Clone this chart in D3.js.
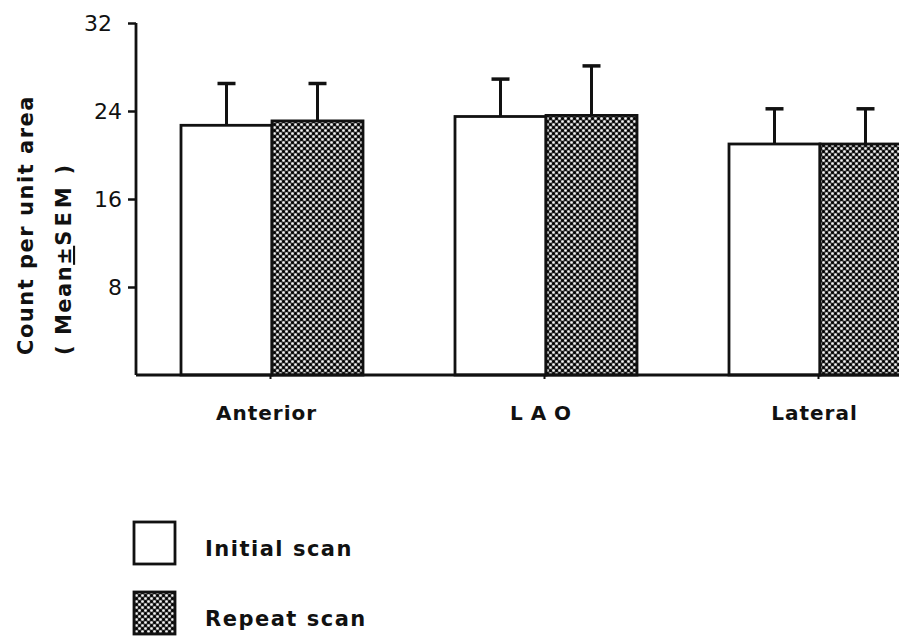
<!DOCTYPE html>
<html><head><meta charset="utf-8">
<script src="https://cdn.jsdelivr.net/npm/d3@7"></script>
<style>body{margin:0;background:#fff}svg{display:block}text{font-family:"DejaVu Sans",sans-serif;fill:#111}</style>
</head><body>
<svg id="c" width="899" height="638"></svg>
<script>
const categories = ["Anterior", "LAO", "Lateral"];
const seriesNames = ["Initial scan", "Repeat scan"];
const initialMean = [22.7, 23.5, 21.0];
const initialSEM  = [3.8, 3.4, 3.2];
const repeatMean  = [23.1, 23.6, 21.0];
const repeatSEM   = [3.4, 4.5, 3.2];
const yTicks = [8, 16, 24, 32];
const yTickLabels = ["8", "16", "24", "32"];

const svg = d3.select("#c");
const defs = svg.append("defs");
const pat = defs.append("pattern").attr("id","dots").attr("patternUnits","userSpaceOnUse")
  .attr("width",6).attr("height",6);
pat.append("rect").attr("width",6).attr("height",6).attr("fill","#4a4a4a");
[[1.5,1.5],[4.5,4.5]].forEach(p=>pat.append("circle").attr("cx",p[0]).attr("cy",p[1]).attr("r",1.5).attr("fill","#050505"));
[[4.5,1.5],[1.5,4.5]].forEach(p=>pat.append("circle").attr("cx",p[0]).attr("cy",p[1]).attr("r",1.3).attr("fill","#f4f4f4"));

const y = d3.scaleLinear().domain([0,32]).range([375,23]);
const x0 = d3.scalePoint().domain(categories).range([270,818]);
const x1 = d3.scaleBand().domain(seriesNames).range([-89,93]).padding(0);

const data = [];
categories.forEach((c,i)=>{
  data.push({c, s:seriesNames[0], m:initialMean[i], e:initialSEM[i]});
  data.push({c, s:seriesNames[1], m:repeatMean[i], e:repeatSEM[i]});
});
const fills = {"Initial scan":"#fff","Repeat scan":"url(#dots)"};

const g = svg.append("g");
data.forEach(d=>{
  const cx = x0(d.c)+x1(d.s)+x1.bandwidth()/2;
  g.append("line").attr("x1",cx).attr("x2",cx).attr("y1",y(d.m)).attr("y2",y(d.m+d.e))
    .attr("stroke","#111").attr("stroke-width",3);
  g.append("line").attr("x1",cx-9).attr("x2",cx+9).attr("y1",y(d.m+d.e)).attr("y2",y(d.m+d.e))
    .attr("stroke","#111").attr("stroke-width",3.5);
});
g.selectAll("rect.bar").data(data).join("rect").attr("class","bar")
  .attr("x",d=>x0(d.c)+x1(d.s)).attr("width",x1.bandwidth())
  .attr("y",d=>y(d.m)).attr("height",d=>y(0)-y(d.m))
  .attr("fill",d=>fills[d.s]).attr("stroke","#111").attr("stroke-width",2.8);

// y axis
const ya = svg.append("g").attr("transform","translate(136,0)")
  .call(d3.axisLeft(y).tickValues(yTicks).tickSize(8).tickFormat((d,i)=>yTickLabels[i]).tickPadding(6));
ya.select(".domain").attr("d","M0,"+y(32)+"V"+y(0)).attr("stroke","#111").attr("stroke-width",2.8);
ya.selectAll(".tick line").attr("stroke","#111").attr("stroke-width",2.5);
ya.selectAll(".tick text").attr("font-size",22).attr("fill","#111").attr("dy","0.35em");
ya.selectAll(".tick").filter(d=>d===32).select("text").attr("dx",-10);

// x axis
const xa = svg.append("g").attr("transform","translate(0,375)")
  .call(d3.axisBottom(x0).tickSize(4).tickPadding(27));
xa.select(".domain").attr("d","M136,0H899").attr("stroke","#111").attr("stroke-width",2.8);
xa.selectAll(".tick line").attr("stroke","#111").attr("stroke-width",2);
xa.selectAll(".tick text").attr("font-size",20).attr("font-weight","bold").attr("fill","#111")
  .attr("letter-spacing",1).attr("dx",-4);
xa.selectAll(".tick").filter(d=>d==="LAO").select("text").attr("letter-spacing",8).attr("dx",0);

// y label
const yl = svg.append("text").attr("transform","translate(33,355) rotate(-90)")
  .attr("font-size",21).attr("font-weight","bold").attr("letter-spacing",1.5);
yl.append("tspan").attr("x",0).attr("y",0).text("Count per unit area");
const t2 = svg.append("text").attr("transform","translate(71,355) rotate(-90)")
  .attr("font-size",21).attr("font-weight","bold").attr("letter-spacing",1.5);
t2.append("tspan").text("( Mean");
t2.append("tspan").attr("text-decoration","underline").text("±");
t2.append("tspan").attr("letter-spacing",4).text("SEM");
t2.append("tspan").text(" )");

// legend
const leg = svg.append("g");
seriesNames.forEach((s,i)=>{
  const yy = 522 + i*70;
  leg.append("rect").attr("x",134).attr("y",yy).attr("width",41).attr("height",42)
    .attr("fill",fills[s]).attr("stroke","#111").attr("stroke-width",2.8);
  leg.append("text").attr("x",205).attr("y",yy+34).attr("font-size",21).attr("font-weight","bold")
    .attr("letter-spacing",1.5).text(s);
});
</script>
</body></html>
